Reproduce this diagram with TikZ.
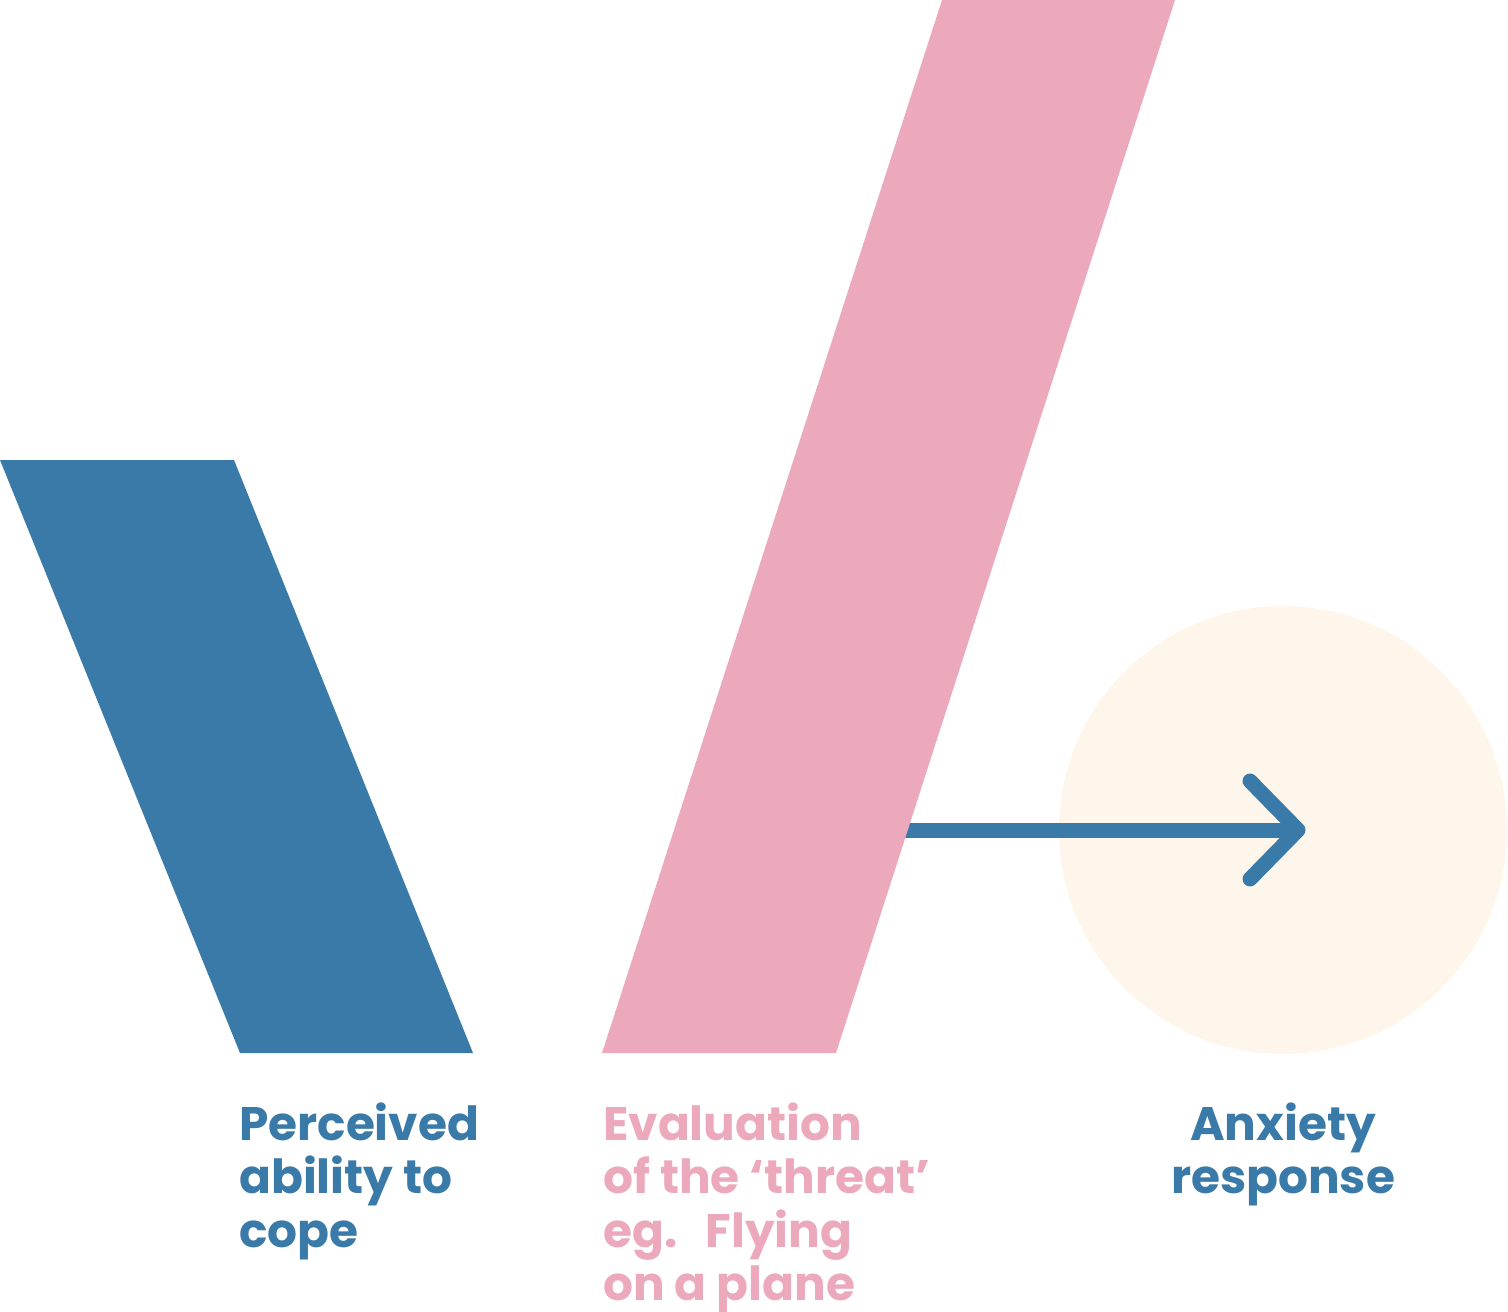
\documentclass[tikz,border=0pt]{standalone}
\usepackage{fontspec}
\setmainfont{Poppins}[BoldFont={* Bold}]
\definecolor{copeblue}{HTML}{3A7AA8}
\definecolor{threatpink}{HTML}{EDA9BC}
\definecolor{responsecream}{HTML}{FEF6EA}
\tikzset{
  label text/.style={font=\bfseries\fontsize{47}{53.5}\selectfont, inner sep=0pt, anchor=base west},
  link/.style={draw=copeblue, line width=15pt},
}
\begin{document}
\begin{tikzpicture}[x=1pt, y=-1pt]
  \useasboundingbox (0,0) rectangle (1508,1312);
  % response circle
  \node[circle, fill=responsecream, minimum size=448pt, inner sep=0pt] (resp) at (1283,830) {};
  % arrow towards the response
  \coordinate (tail) at (905,830);
  \coordinate (tip) at (1298,830);
  \draw[link, line cap=butt] (tail) -- (tip);
  \draw[link, line cap=round, line join=round] (1250,781) -- (tip) -- (1250,879);
  % perceived ability to cope
  \fill[copeblue] (0,460) -- (234,460) -- (473,1053) -- (240,1053) -- cycle;
  % evaluation of the threat
  \fill[threatpink] (942,0) -- (1175,0) -- (836,1053) -- (602,1053) -- cycle;
  % labels (anchored at the baseline of their last line)
  \node[label text, text=copeblue, align=left] (cope) at (239,1247) {Perceived\\ability to\\cope};
  \node[label text, text=threatpink, align=left] (threat) at (603,1300.5) {Evaluation\\of the ‘threat’\\eg.\hspace{0.6em}Flying\\on a plane};
  \node[label text, text=copeblue, align=center, anchor=base] (anx) at (1283,1193.5) {Anxiety\\response};
\end{tikzpicture}
\end{document}
